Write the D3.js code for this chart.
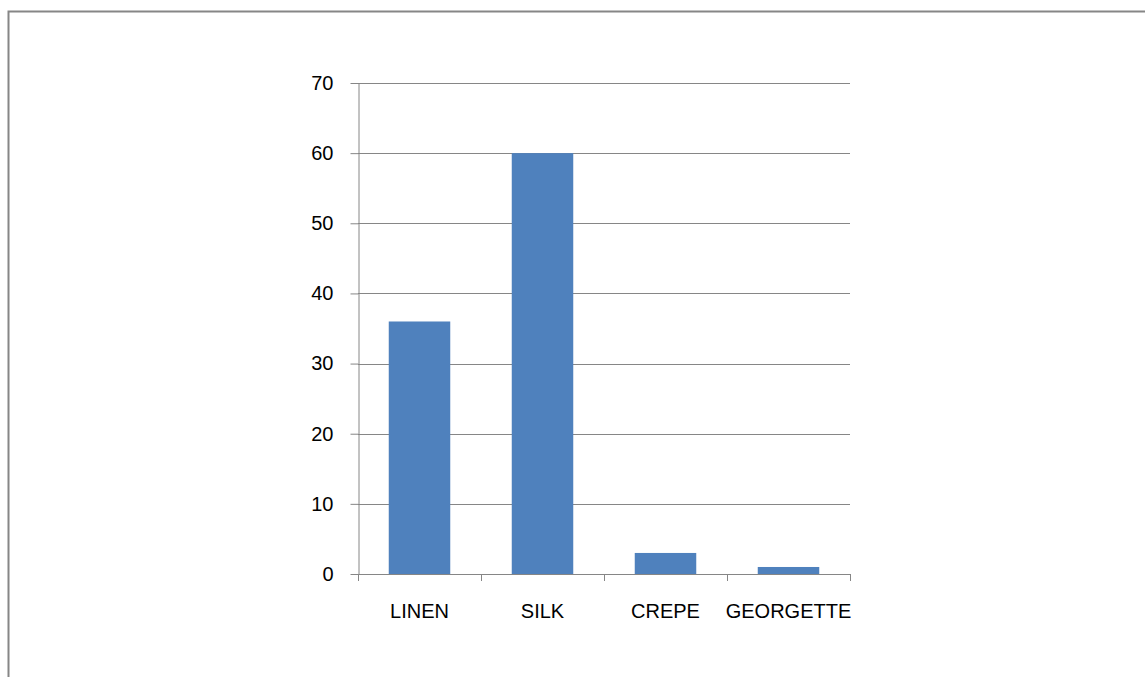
<!DOCTYPE html>
<html lang="en">
<head>
<meta charset="utf-8">
<title>Fabric chart</title>
<script type="text/javascript" src="https://cdn.jsdelivr.net/npm/d3@7"></script>
<style type="text/css">
  body{ margin:0; background:#fff; }
  text{ font-family:"Liberation Sans","Open Sans",sans-serif; font-size:20px; fill:#000; }
</style>
</head>
<body>
<script type="text/javascript">
  var categories = ["LINEN", "SILK", "CREPE", "GEORGETTE"];
  var values = [36, 60, 3, 1];
  var yTicks = [0, 10, 20, 30, 40, 50, 60, 70];

  var w = 1145, h = 677;
  var plotLeft = 358, plotRight = 850, plotTop = 83, plotBottom = 574;

  var svg = d3.select("body").append("svg")
      .attr("width", w).attr("height", h);

  // chart frame (runs off the right and bottom edges)
  svg.append("rect")
    .attr("x", 8.5).attr("y", 11.5)
    .attr("width", 1160).attr("height", 700)
    .attr("fill", "none").attr("stroke", "#868686").attr("stroke-width", 2);

  var x = d3.scaleBand().domain(categories).range([plotLeft, plotRight])
      .paddingInner(0.5).paddingOuter(0.25);
  var y = d3.scaleLinear().domain([0, 70]).range([plotBottom, plotTop]);

  // gridlines
  svg.append("g").selectAll("line")
    .data(yTicks.filter(function(d){ return d > 0; }))
    .enter().append("line")
    .attr("x1", plotLeft).attr("x2", plotRight)
    .attr("y1", function(d){ return Math.round(y(d)) + 0.5; })
    .attr("y2", function(d){ return Math.round(y(d)) + 0.5; })
    .attr("stroke", "#868686").attr("stroke-width", 1);

  // bars
  svg.append("g").selectAll("rect")
    .data(values).enter().append("rect")
    .attr("x", function(d, i){ return x(categories[i]); })
    .attr("width", x.bandwidth())
    .attr("y", function(d){ return y(d); })
    .attr("height", function(d){ return y(0) - y(d); })
    .attr("fill", "#4F81BD");

  // y axis
  var yAxis = svg.append("g")
    .attr("transform", "translate(" + (plotLeft + 0.5) + ",0)")
    .call(d3.axisLeft(y).tickValues(yTicks).tickSize(8).tickPadding(17).tickSizeOuter(0));
  yAxis.select(".domain").attr("stroke", "#868686");
  yAxis.selectAll(".tick line").attr("stroke", "#868686");
  yAxis.selectAll("text").style("font-size", "20px").attr("font-family", null);

  // x axis, ticks at category boundaries
  var xg = svg.append("g").attr("transform", "translate(0," + plotBottom + ")");
  xg.append("line").attr("x1", plotLeft).attr("x2", plotRight)
    .attr("y1", 0.5).attr("y2", 0.5).attr("stroke", "#868686");
  var bounds = d3.range(categories.length + 1).map(function(i){
    return plotLeft + i * (plotRight - plotLeft) / categories.length;
  });
  xg.selectAll("line.tk").data(bounds).enter().append("line")
    .attr("class", "tk")
    .attr("x1", function(d){ return Math.round(d) + 0.5; })
    .attr("x2", function(d){ return Math.round(d) + 0.5; })
    .attr("y1", 0).attr("y2", 7).attr("stroke", "#868686");
  xg.selectAll("text").data(categories).enter().append("text")
    .attr("x", function(d){ return x(d) + x.bandwidth() / 2; })
    .attr("y", 44)
    .attr("text-anchor", "middle")
    .text(function(d){ return d; });
</script>
</body>
</html>
